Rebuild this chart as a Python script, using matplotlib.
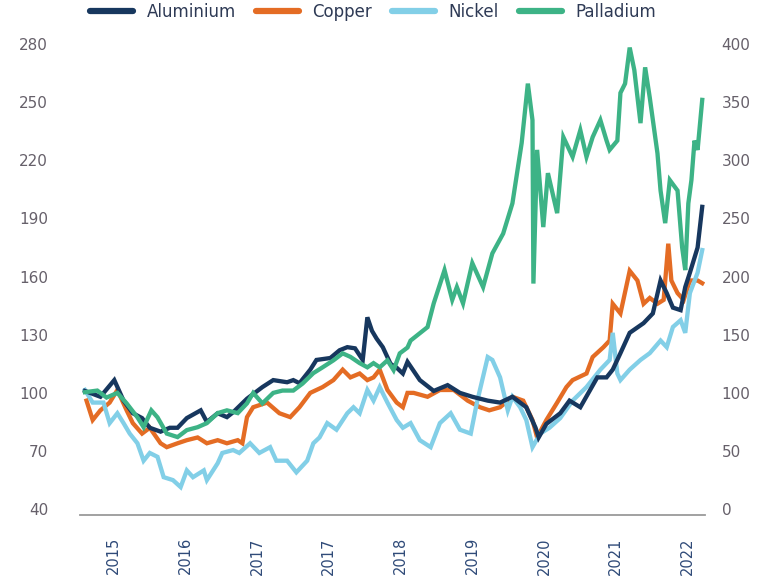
import matplotlib
matplotlib.use('Agg')
import matplotlib.pyplot as plt
from matplotlib.lines import Line2D

# weeks since start of series (approx. mid-2014 .. Mar 2022), values indexed to 100
alu_weeks = [0, 10, 19, 25, 31, 37, 42, 49, 55, 60, 66, 75, 79, 86, 92, 96, 105, 115, 122, 131,
             135, 139, 146, 150, 159, 165, 170, 175, 180, 183, 186, 189, 193, 198, 202, 206, 209,
             217, 226, 235, 243, 251, 261, 269, 277, 286, 292, 294, 299, 308, 314, 321, 327, 332,
             338, 342, 347, 353, 362, 368, 373, 377, 381, 386, 389, 392, 397, 400]
alu_vals = [101, 98, 106.6, 96, 89.5, 87, 82, 80, 82, 82, 87, 91, 85, 89.5, 87.5, 90, 97, 103, 106.6, 105.5,
            106.6, 105, 112, 117, 118, 122, 123.6, 123, 117, 139, 132, 128, 123.6, 115, 113, 110, 116,
            106.6, 101, 104, 100, 98, 96, 95, 98, 92.6, 82, 77, 84, 89.5, 96, 92.6, 101, 108,
            108, 112, 120.5, 131, 136, 141, 158, 151.5, 144, 142.7, 154.6, 162, 175, 196]

cu_weeks = [1, 5, 10, 16, 21, 27, 31, 37, 42, 49, 53, 60, 66, 73, 79, 86, 92, 99, 102, 105, 109,
            118, 126, 133, 139, 146, 154, 161, 167, 172, 178, 183, 187, 191, 196, 202, 206, 209,
            213, 222, 230, 239, 248, 256, 262, 269, 277, 284, 290, 293, 299, 306, 312, 316, 325,
            329, 336, 340, 342, 347, 353, 358, 362, 366, 371, 375, 378, 380, 384, 388, 392, 397, 400]
cu_vals = [96, 86, 91, 95, 101.5, 91, 84.4, 79, 82, 74, 72, 74, 75.6, 77, 74, 75.6, 74, 75.6, 74, 87.5, 92.6,
           95, 89.5, 87.5, 92.6, 100, 103, 106.6, 112, 108, 110, 106.6, 108, 112, 101.5, 95, 92.6, 100,
           100, 98, 101.5, 101.5, 96, 92.6, 91, 92.6, 98, 96, 86, 77, 86, 95, 103, 106.6, 110,
           118.5, 123.6, 127, 146, 141, 163, 158, 146, 149, 146, 148, 177, 158, 151.5, 148, 158, 158, 156.6]

ni_weeks = [0, 5, 12, 16, 21, 25, 29, 34, 38, 42, 47, 51, 57, 62, 66, 70, 77, 79, 86, 89, 96, 100,
            107, 113, 120, 124, 131, 137, 144, 148, 152, 157, 163, 170, 174, 178, 183, 187, 191,
            196, 202, 206, 211, 217, 224, 230, 237, 243, 250, 254, 261, 264, 269, 274, 277, 282,
            286, 290, 295, 301, 308, 316, 325, 334, 340, 342, 345, 347, 353, 360, 366, 373, 377,
            381, 386, 389, 392, 397, 400]
ni_vals = [101.5, 95, 95, 84.4, 89.5, 84.4, 79, 74, 65, 69, 67, 56.5, 55, 51.4, 60, 56.5, 60, 55, 63.7, 69, 70.5, 69,
           74, 69, 72, 65, 65, 59, 65, 74, 77, 84.4, 81, 89.5, 92.6, 89.5, 101.5, 96, 103,
           95, 86, 82, 84.4, 75.6, 72, 84.4, 89.5, 81, 79, 95, 118.5, 117, 108, 91, 98, 92.6,
           86, 72, 79, 82, 87, 96, 103, 112, 117, 131, 110, 106.6, 112, 117, 120.5, 127, 123.6,
           134, 137.5, 131, 151.5, 162, 173.7]

# palladium is read on the right-hand axis
pd_weeks = [0, 8, 14, 21, 27, 34, 38, 43, 47, 53, 60, 66, 73, 79, 86, 92, 99, 105, 109, 115, 122,
            128, 135, 141, 148, 154, 161, 167, 172, 178, 183, 187, 191, 196, 200, 204, 209, 211,
            222, 226, 233, 238, 241, 245, 251, 258, 264, 271, 277, 280, 283, 287, 290, 290.6, 293,
            297, 300, 306, 310, 316, 321, 325, 329, 334, 338, 340, 345, 347, 350, 353, 356, 360,
            363, 366, 371, 373, 376, 379, 384, 387, 389, 391, 393, 395, 397, 400]
pd_vals = [100.6, 102, 96, 100, 91, 79, 70.5, 85, 79, 65, 62, 68, 70.5, 74, 82.6, 85, 82.6, 91, 100, 91, 100,
           102, 102, 108, 117, 122, 128, 134, 131, 125.6, 122, 125.6, 122, 128, 119.6, 134, 139, 145,
           156.6, 177, 205.6, 180, 191, 177, 211.6, 191, 220, 237, 263, 289, 315, 366, 334.6, 194, 309,
           242.6, 289, 254.6, 320, 303, 326, 303, 320, 334.6, 317, 309, 317, 358, 366, 397, 377.6, 332,
           380, 354, 306, 274, 246, 283, 274, 225, 205.6, 263, 283, 317, 309, 352]

tick_weeks = [18.5, 65, 111.5, 158, 204.5, 251, 297.5, 344, 390.5]
tick_labels = ['2015', '2016', '2017', '2017', '2018', '2019', '2020', '2021', '2022']

names = ['Aluminium', 'Copper', 'Nickel', 'Palladium']
colors = ['#17375e', '#e46c24', '#82cfe7', '#3db386']


def main():
    plt.rcParams['font.family'] = ['DejaVu Sans']
    fig = plt.figure(figsize=(7.71, 5.85), dpi=100)
    ax = fig.add_axes([0.1038, 0.1197, 0.8106, 0.8119])
    ax2 = ax.twinx()

    lw = 3.1
    ax.plot(cu_weeks, cu_vals, color=colors[1], lw=lw, solid_joinstyle='miter')
    ax.plot(ni_weeks, ni_vals, color=colors[2], lw=lw, solid_joinstyle='miter')
    ax.plot(alu_weeks, alu_vals, color=colors[0], lw=lw, solid_joinstyle='miter')
    ax2.plot(pd_weeks, pd_vals, color=colors[3], lw=lw, solid_joinstyle='miter')

    ax.set_xlim(-3.2, 401.8)
    ax.set_ylim(37.0, 282.1)
    ax2.set_ylim(-5.0, 403.5)
    ax.set_yticks(range(40, 281, 30))
    ax2.set_yticks(range(0, 401, 50))
    ax.set_xticks(tick_weeks)
    ax.set_xticklabels(tick_labels, rotation=90)

    for a in (ax, ax2):
        for s in a.spines.values():
            s.set_visible(False)
        a.tick_params(length=0, labelsize=11, labelcolor='#66606a')
    ax.spines['bottom'].set_visible(True)
    ax.spines['bottom'].set_color('#9a9a9a')
    ax.spines['bottom'].set_linewidth(1.3)
    ax.tick_params(axis='y', pad=23)
    ax2.tick_params(axis='y', pad=12)
    ax.tick_params(axis='x', pad=16, labelsize=10.5, labelcolor='#2f4a78')

    handles = [Line2D([0], [0], color=c, lw=4.5, solid_capstyle='round') for c in colors]
    fig.legend(handles, names, loc='center', bbox_to_anchor=(0.484, 0.979), ncol=4,
               frameon=False, fontsize=12, handlelength=2.6, columnspacing=1.2,
               handletextpad=0.8, labelcolor='#2e3a55')

    fig.savefig('out.png', dpi=100)
    plt.close('all')


if __name__ == '__main__':
    main()
